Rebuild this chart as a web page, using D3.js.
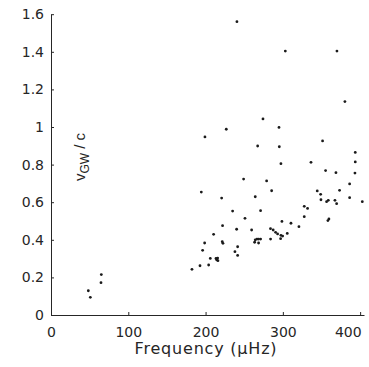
<!DOCTYPE html>
<html><head><meta charset="utf-8">
<script src="https://cdn.jsdelivr.net/npm/d3@7"></script>
<style>body{margin:0;background:#fff;}svg{display:block;font-family:"Liberation Sans",Arial,sans-serif;}</style>
</head><body><div id="chart"></div>
<script>
const freq = [240.6,303.2,370,380.3,274.3,226.8,199.2,295,267.4,295.4,351.4,393.7,297.5,336.4,393.7,355.3,368.7,393.3,249.2,279,194.5,285.5,386.4,344.5,348.9,373.4,220.8,264.3,349.3,356.6,358.8,367.4,369.6,386.4,402.8,235,271.2,327.7,332,327.7,251,222,259.6,240.2,284,287.5,290.6,293.2,297.5,299.7,298.8,310.5,320.8,359.6,358.3,305.7,297.1,284.1,210.4,198.8,221.6,222.5,264.3,266.5,268.6,271.2,263.5,268.6,196.2,241.5,238,241.5,206.1,213.5,214.3,216,215.6,204,192.8,182.4,65.1,64.7,48.3,50.9];
const vgw = [1.560,1.404,1.404,1.135,1.043,0.988,0.947,0.998,0.899,0.895,0.926,0.865,0.805,0.812,0.814,0.768,0.757,0.755,0.723,0.713,0.654,0.661,0.697,0.660,0.642,0.663,0.622,0.629,0.613,0.603,0.610,0.610,0.592,0.624,0.603,0.553,0.555,0.578,0.567,0.523,0.514,0.475,0.452,0.456,0.459,0.452,0.440,0.431,0.424,0.420,0.498,0.488,0.470,0.511,0.502,0.434,0.406,0.404,0.429,0.383,0.390,0.381,0.400,0.404,0.404,0.404,0.387,0.383,0.344,0.363,0.337,0.317,0.301,0.301,0.294,0.289,0.303,0.266,0.262,0.243,0.215,0.172,0.129,0.094];
const xTicks = [0,100,200,300,400];
const yTicks = [0,0.2,0.4,0.6,0.8,1,1.2,1.4,1.6];

const W = 369, H = 367;
const svg = d3.select("#chart").append("svg").attr("width", W).attr("height", H);
const x = d3.scaleLinear().domain([0, 405]).range([51, 364]);
const y = d3.scaleLinear().domain([0, 1.6]).range([315, 14.2]);
const ink = "#262626";
const tickFont = "'DejaVu Sans','Liberation Sans',sans-serif";

const xAxis = svg.append("g").attr("transform", "translate(0,315)")
  .call(d3.axisBottom(x).tickValues(xTicks).tickFormat(d3.format("d")).tickSizeInner(-3).tickSizeOuter(0).tickPadding(12));
const yAxis = svg.append("g").attr("transform", "translate(51,0)")
  .call(d3.axisLeft(y).tickValues(yTicks).tickFormat(d => String(d)).tickSizeInner(-3).tickSizeOuter(0).tickPadding(7));
[xAxis, yAxis].forEach(g => {
  g.select(".domain").attr("stroke", ink).attr("stroke-width", 1);
  g.selectAll(".tick line").attr("stroke", ink);
  g.selectAll(".tick text").attr("fill", ink).style("font-size", "14px").style("font-family", tickFont);
});
// last x label kept inside the picture, as in the reference
xAxis.selectAll(".tick text").filter(d => d === 400).attr("text-anchor", "end").attr("dx", 1);

svg.append("g").selectAll("circle").data(freq.map((f, i) => [f, vgw[i]])).join("circle")
  .attr("cx", d => x(d[0])).attr("cy", d => y(d[1])).attr("r", 1.4).attr("fill", "#1a1a1a");

svg.append("text").attr("x", 206).attr("y", 354).attr("text-anchor", "middle")
  .attr("fill", ink).style("font-size", "16px").style("font-family", tickFont)
  .style("letter-spacing", "0.8px").text("Frequency (µHz)");

const yl = svg.append("text").attr("transform", "translate(85,157) rotate(-90)").attr("text-anchor", "middle")
  .attr("fill", ink).style("font-size", "15px");
yl.append("tspan").text("v");
yl.append("tspan").attr("dy", 4).style("font-size", "12px").text("GW");
yl.append("tspan").attr("dy", -4).text(" / c");
</script></body></html>
